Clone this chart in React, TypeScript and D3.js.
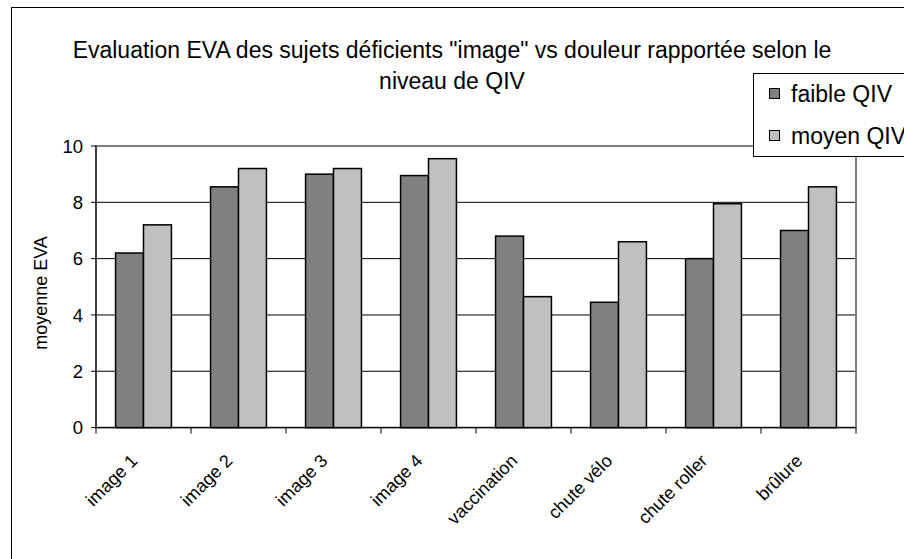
import { useEffect, useRef } from 'react'
import * as d3 from 'd3'

const CATEGORIES = [
  'image 1',
  'image 2',
  'image 3',
  'image 4',
  'vaccination',
  'chute vélo',
  'chute roller',
  'brûlure',
]
const SERIES = ['faible QIV', 'moyen QIV']
const FAIBLE = [6.2, 8.55, 9.0, 8.95, 6.8, 4.45, 6.0, 7.0]
const MOYEN = [7.2, 9.2, 9.2, 9.55, 4.65, 6.6, 7.95, 8.55]
const Y_TICKS = [0, 2, 4, 6, 8, 10]
const TITLE_LINES = [
  'Evaluation EVA des sujets déficients "image" vs douleur rapportée selon le',
  'niveau de QIV',
]
const Y_LABEL = 'moyenne EVA'

const COLORS = ['#808080', '#c0c0c0']
const FONT = '"Liberation Sans", Arial, sans-serif'

export default function App() {
  const svgRef = useRef<SVGSVGElement | null>(null)

  useEffect(() => {
    const svg = svgRef.current
    if (!svg) return

    const width = 904
    const height = 559
    const plot = { left: 96, right: 856, top: 146, bottom: 427.6 }

    const root = d3.select(svg)
    root.selectAll('*').remove()
    root.attr('viewBox', `0 0 ${width} ${height}`)

    const x0 = d3.scaleBand<string>().domain(CATEGORIES).range([plot.left, plot.right])
    const x1 = d3
      .scaleBand<string>()
      .domain(SERIES)
      .range([0, x0.bandwidth()])
      .paddingOuter(0.7)
    const y = d3.scaleLinear().domain([0, 10]).range([plot.bottom, plot.top])

    // outer chart frame (right / bottom edges fall outside the view)
    root
      .append('rect')
      .attr('x', 11.5)
      .attr('y', 7.5)
      .attr('width', 1000)
      .attr('height', 700)
      .attr('fill', '#fff')
      .attr('stroke', '#000')

    // title
    root
      .append('g')
      .selectAll('text')
      .data(TITLE_LINES)
      .join('text')
      .attr('x', 452)
      .attr('y', (_, i) => 58 + i * 31)
      .attr('text-anchor', 'middle')
      .attr('font-family', FONT)
      .attr('font-size', 23)
      .attr('fill', '#000')
      .text((d) => d)

    // gridlines
    root
      .append('g')
      .selectAll('line')
      .data(Y_TICKS.filter((t) => t > 0 && t < 10))
      .join('line')
      .attr('x1', plot.left)
      .attr('x2', plot.right)
      .attr('y1', (d) => y(d))
      .attr('y2', (d) => y(d))
      .attr('stroke', '#000')
      .attr('stroke-width', 1)

    // plot area border
    root
      .append('rect')
      .attr('x', plot.left)
      .attr('y', plot.top)
      .attr('width', plot.right - plot.left)
      .attr('height', plot.bottom - plot.top)
      .attr('fill', 'none')
      .attr('stroke', '#808080')
      .attr('stroke-width', 2)

    // bars
    const data = CATEGORIES.flatMap((cat, i) => [
      { cat, series: SERIES[0], value: FAIBLE[i], color: COLORS[0] },
      { cat, series: SERIES[1], value: MOYEN[i], color: COLORS[1] },
    ])
    root
      .append('g')
      .selectAll('rect')
      .data(data)
      .join('rect')
      .attr('x', (d) => (x0(d.cat) ?? 0) + (x1(d.series) ?? 0))
      .attr('y', (d) => y(d.value))
      .attr('width', x1.bandwidth())
      .attr('height', (d) => y(0) - y(d.value))
      .attr('fill', (d) => d.color)
      .attr('stroke', '#000')
      .attr('stroke-width', 1.5)

    // y axis
    const yAxis = root.append('g')
    yAxis
      .append('line')
      .attr('x1', plot.left)
      .attr('x2', plot.left)
      .attr('y1', plot.top)
      .attr('y2', plot.bottom)
      .attr('stroke', '#000')
    yAxis
      .selectAll('line.tick')
      .data(Y_TICKS)
      .join('line')
      .attr('class', 'tick')
      .attr('x1', plot.left - 5)
      .attr('x2', plot.left)
      .attr('y1', (d) => y(d))
      .attr('y2', (d) => y(d))
      .attr('stroke', '#000')
    yAxis
      .selectAll('text')
      .data(Y_TICKS)
      .join('text')
      .attr('x', plot.left - 13)
      .attr('y', (d) => y(d))
      .attr('dy', '0.36em')
      .attr('text-anchor', 'end')
      .attr('font-family', FONT)
      .attr('font-size', 18.5)
      .text((d) => d)

    root
      .append('text')
      .attr('transform', 'translate(47,293) rotate(-90)')
      .attr('text-anchor', 'middle')
      .attr('font-family', FONT)
      .attr('font-size', 18)
      .text(Y_LABEL)

    // x axis
    const xAxis = root.append('g')
    xAxis
      .append('line')
      .attr('x1', plot.left)
      .attr('x2', plot.right)
      .attr('y1', plot.bottom)
      .attr('y2', plot.bottom)
      .attr('stroke', '#000')
    const boundaries = [...CATEGORIES.map((c) => x0(c) ?? 0), plot.right]
    xAxis
      .selectAll('line.tick')
      .data(boundaries)
      .join('line')
      .attr('class', 'tick')
      .attr('x1', (d) => d)
      .attr('x2', (d) => d)
      .attr('y1', plot.bottom)
      .attr('y2', plot.bottom + 6)
      .attr('stroke', '#000')
    xAxis
      .selectAll('text')
      .data(CATEGORIES)
      .join('text')
      .attr(
        'transform',
        (d) => `translate(${(x0(d) ?? 0) + x0.bandwidth() / 2 - 5},462) rotate(-45)`,
      )
      .attr('text-anchor', 'end')
      .attr('font-family', FONT)
      .attr('font-size', 18)
      .text((d) => d)

    // legend
    const legend = root.append('g')
    legend
      .append('rect')
      .attr('x', 753.5)
      .attr('y', 73.5)
      .attr('width', 200)
      .attr('height', 83)
      .attr('fill', '#fff')
      .attr('stroke', '#000')
    const items = legend
      .selectAll('g')
      .data(SERIES)
      .join('g')
      .attr('transform', (_, i) => `translate(0,${i * 42})`)
    items
      .append('rect')
      .attr('x', 769.5)
      .attr('y', 88.5)
      .attr('width', 10)
      .attr('height', 10)
      .attr('fill', (_, i) => COLORS[i])
      .attr('stroke', '#000')
    items
      .append('text')
      .attr('x', 791)
      .attr('y', 102)
      .attr('font-family', FONT)
      .attr('font-size', 23)
      .text((d) => d)
  }, [])

  return (
    <svg
      ref={svgRef}
      width={904}
      height={559}
      style={{ position: 'absolute', left: 0, top: 0, background: '#fff' }}
      role="img"
      aria-label="Evaluation EVA bar chart"
    />
  )
}
